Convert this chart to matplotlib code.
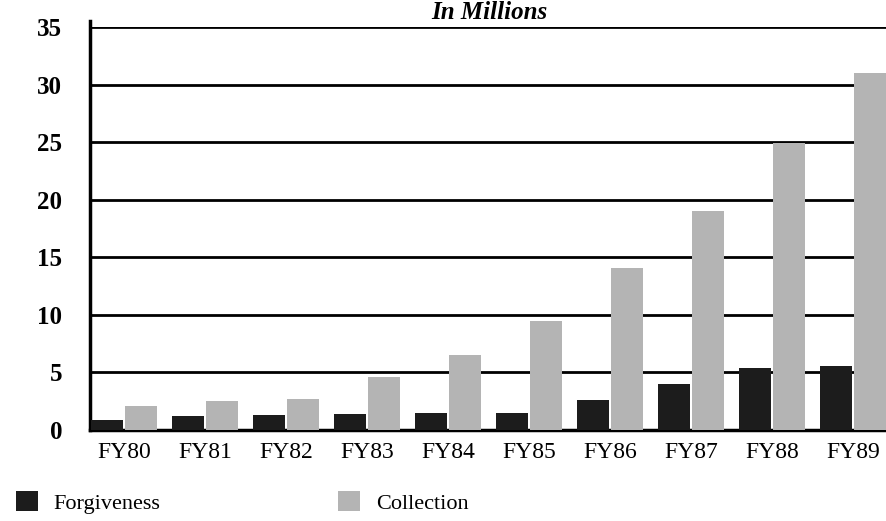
import matplotlib.pyplot as plt
import numpy as np
from matplotlib.patches import Patch

years = ['FY80', 'FY81', 'FY82', 'FY83', 'FY84', 'FY85', 'FY86', 'FY87', 'FY88', 'FY89']
forgiveness = [0.9, 1.2, 1.3, 1.4, 1.5, 1.5, 2.6, 4.0, 5.4, 5.6]
collection = [2.1, 2.5, 2.7, 4.6, 6.5, 9.5, 14.1, 19.0, 24.9, 31.0]
yticks = [0, 5, 10, 15, 20, 25, 30, 35]

dark = '#1c1c1c'
grey = '#b4b4b4'

plt.rcParams['font.family'] = 'Liberation Serif'

fig = plt.figure(figsize=(8.87, 5.21), dpi=100)
ax = fig.add_axes([0.1015, 0.1747, 0.8985, 0.7735])

x = np.arange(len(years))
w = 0.4
ax.bar(x - w / 2 - 0.01, forgiveness, width=w, color=dark, zorder=3)
ax.bar(x + w / 2 + 0.01, collection, width=w, color=grey, zorder=3)

for t in yticks[1:]:
    ax.axhline(t, color='black', lw=2, zorder=1)

ax.set_xlim(-0.42, 9.42)
ax.set_ylim(0, 35)
ax.set_yticks(yticks)
ax.set_xticks(x)
ax.set_xticklabels(years)
ax.tick_params(axis='x', length=0, labelsize=17, pad=9)
ax.tick_params(axis='y', length=0, labelsize=18, pad=20)
for lab in ax.get_yticklabels():
    lab.set_fontweight('bold')

for s in ['top', 'right']:
    ax.spines[s].set_visible(False)
ax.spines['left'].set_linewidth(2.5)
ax.spines['bottom'].set_linewidth(2.5)
ax.spines['left'].set_bounds(0, 35.5)
ax.spines['left'].set_clip_on(False)

fig.text(0.552, 0.998, 'In Millions', ha='center', va='top',
         fontsize=18, style='italic', weight='bold')

handles = [Patch(facecolor=dark), Patch(facecolor=grey)]
fig.legend(handles, ['Forgiveness', 'Collection'], ncol=2, loc='lower left',
           bbox_to_anchor=(-0.005, -0.025), frameon=False, fontsize=16,
           columnspacing=8.0, handlelength=1.0, handleheight=1.0, handletextpad=0.7)

fig.savefig('out.png', dpi=100)
